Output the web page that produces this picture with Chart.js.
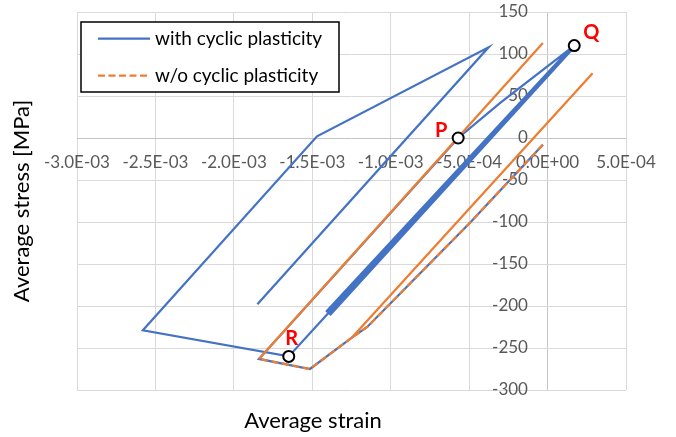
<!DOCTYPE html>
<html>
<head>
<meta charset="utf-8">
<script src="https://cdn.jsdelivr.net/npm/chart.js@4.4.1/dist/chart.umd.min.js"></script>
<style>
    body { margin: 0; background: #fff; }
</style>
</head>
<body>
<canvas id="grafico" width="676" height="437"></canvas>
<script>
// --- 1. DADOS ---

// Com plasticidade cíclica (deformação média x tensão média em MPa)
// carga inicial, ida até Q, ciclos entre Q e -209 MPa, depois R e descarga final
const deformacaoCom = [-0.03e-3, -0.49e-3, -1.15e-3, -1.25e-3, -1.515e-3, -1.84e-3, -0.57e-3, -0.30e-3, 0.17e-3,
    -1.388e-3, 0.175e-3, -1.394e-3, 0.168e-3, -1.412e-3, 0.165e-3, -1.406e-3, 0.172e-3, -1.40e-3,
    -1.65e-3, -2.58e-3, -1.47e-3, -0.376e-3, -1.85e-3];
const tensaoCom = [-8, -100, -225, -238, -275, -263, 0, 42, 110,
    -211, 109.2, -210, 110.4, -207, 110.8, -208, 109.6, -209,
    -260, -229, 2, 108, -198];

// Sem plasticidade cíclica
const deformacaoSem = [-0.03e-3, -0.49e-3, -1.15e-3, -1.25e-3, 0.287e-3, -1.25e-3, -1.515e-3, -1.84e-3, -0.03e-3, -1.84e-3];
const tensaoSem = [-8, -100, -225, -238, 77, -238, -275, -263, 113, -263];

// Pontos marcados
const pontosNome = ['P', 'Q', 'R'];
const pontosDeformacao = [-0.57e-3, 0.17e-3, -1.65e-3];
const pontosTensao = [0, 110, -260];

// Eixos
const ticksDeformacao = [-3.0e-3, -2.5e-3, -2.0e-3, -1.5e-3, -1.0e-3, -0.5e-3, 0, 0.5e-3];
const rotulosDeformacao = ['-3.0E-03', '-2.5E-03', '-2.0E-03', '-1.5E-03', '-1.0E-03', '-5.0E-04', '0.0E+00', '5.0E-04'];
const ticksTensao = [-300, -250, -200, -150, -100, -50, 0, 50, 100, 150];

// --- 2. UTILIDADES ---

function pares(xs, ys) {
    return xs.map((x, i) => ({ x: x, y: ys[i] }));
}

// Trecho percorrido de ida e volta (vários ciclos) aparece contínuo
function trechoRepetido(ctx) {
    const dados = ctx.chart.data.datasets[ctx.datasetIndex].data;
    const a = dados[ctx.p0DataIndex], b = dados[ctx.p1DataIndex];
    for (let i = 0; i < dados.length - 1; i++) {
        if (i === ctx.p0DataIndex) continue;
        const c = dados[i], d = dados[i + 1];
        if (c.x === b.x && c.y === b.y && d.x === a.x && d.y === a.y) return true;
    }
    return false;
}

const corAzul = '#4472C4';
const corLaranja = '#ED7D31';
const tracoLaranja = [7, 3.5];

// --- 3. PLUGINS ---

// Caixa de legenda dentro da área do gráfico
const legendaCaixa = {
    id: 'legendaCaixa',
    afterDraw(chart) {
        const { ctx, chartArea } = chart;
        const x = chartArea.left + 4, y = chartArea.top + 10, w = 258, h = 70;
        ctx.save();
        ctx.fillStyle = '#fff';
        ctx.fillRect(x, y, w, h);
        ctx.strokeStyle = '#000';
        ctx.lineWidth = 1.5;
        ctx.strokeRect(x, y, w, h);
        ctx.font = '19px Lato';
        ctx.textBaseline = 'middle';
        chart.data.datasets.filter(ds => ds.label).forEach((ds, i) => {
            const ly = y + 16.5 + i * 37;
            ctx.beginPath();
            ctx.strokeStyle = ds.borderColor;
            ctx.lineWidth = ds.borderWidth;
            ctx.setLineDash(ds.borderDash || []);
            ctx.moveTo(x + 17, ly);
            ctx.lineTo(x + 69, ly);
            ctx.stroke();
            ctx.setLineDash([]);
            ctx.fillStyle = '#000';
            ctx.fillText(ds.label, x + 74, ly);
        });
        ctx.restore();
    }
};

// Letras P, Q e R ao lado dos marcadores
const deslocRotulo = [[-17, -7], [17, -13], [3, -18]];
const rotulosPontos = {
    id: 'rotulosPontos',
    afterDatasetsDraw(chart) {
        const ctx = chart.ctx;
        const meta = chart.getDatasetMeta(2);
        ctx.save();
        ctx.font = 'bold 20px Lato';
        ctx.fillStyle = '#FF0000';
        ctx.textAlign = 'center';
        ctx.textBaseline = 'middle';
        meta.data.forEach((pt, i) => {
            ctx.fillText(pontosNome[i], pt.x + deslocRotulo[i][0], pt.y + deslocRotulo[i][1]);
        });
        ctx.restore();
    }
};

// --- 4. GRÁFICO ---

const corGrade = ctx => (ctx.tick && ctx.tick.value === 0) ? '#c4c4c4' : '#d9d9d9';
const fonteTicks = { family: 'Lato', size: 17 };

new Chart(document.getElementById('grafico'), {
    type: 'scatter',
    data: {
        datasets: [
            {
                label: 'with cyclic plasticity',
                data: pares(deformacaoCom, tensaoCom),
                showLine: true,
                borderColor: corAzul,
                borderWidth: 2.25,
                borderDash: [],
                pointRadius: 0,
                order: 2
            },
            {
                label: 'w/o cyclic plasticity',
                data: pares(deformacaoSem, tensaoSem),
                showLine: true,
                borderColor: corLaranja,
                borderWidth: 2.25,
                borderDash: tracoLaranja,
                segment: { borderDash: ctx => trechoRepetido(ctx) ? [] : tracoLaranja },
                pointRadius: 0,
                order: 1
            },
            {
                data: pares(pontosDeformacao, pontosTensao),
                showLine: false,
                pointRadius: 5.5,
                pointBackgroundColor: '#fff',
                pointBorderColor: '#000',
                pointBorderWidth: 2,
                order: 0
            }
        ]
    },
    options: {
        responsive: false,
        animation: false,
        events: [],
        layout: { padding: { top: 12, right: 50, left: 0, bottom: 0 } },
        scales: {
            x: {
                type: 'linear',
                position: { y: 0 },
                min: -3.0e-3,
                max: 0.5e-3,
                afterBuildTicks: s => { s.ticks = ticksDeformacao.map(v => ({ value: v })); },
                afterFit: s => { s.height = 0; },
                ticks: {
                    padding: 14,
                    color: '#595959',
                    font: fonteTicks,
                    maxRotation: 0,
                    autoSkip: false,
                    callback: (v, i) => rotulosDeformacao[i]
                },
                grid: { color: corGrade, lineWidth: 1, drawTicks: false },
                border: { display: false }
            },
            y: {
                type: 'linear',
                // rótulos um pouco à esquerda da linha do zero
                position: { x: -1.25e-4 },
                min: -300,
                max: 150,
                afterBuildTicks: s => { s.ticks = ticksTensao.map(v => ({ value: v })); },
                afterFit: s => { s.width = 0; },
                ticks: {
                    padding: 0,
                    color: '#595959',
                    font: fonteTicks,
                    autoSkip: false
                },
                grid: { color: corGrade, lineWidth: 1, drawTicks: false },
                border: { display: false }
            }
        },
        plugins: {
            legend: { display: false },
            tooltip: { enabled: false },
            title: {
                display: true,
                text: 'Average stress [MPa]',
                position: 'left',
                fullSize: false,
                color: '#000',
                font: { family: 'Lato', size: 22, weight: 'normal' },
                padding: { top: 9, bottom: 41.6 }
            },
            subtitle: {
                display: true,
                text: 'Average strain',
                position: 'bottom',
                color: '#000',
                font: { family: 'Lato', size: 22, weight: 'normal' },
                padding: { top: 17.8, bottom: 2.8 }
            }
        }
    },
    plugins: [legendaCaixa, rotulosPontos]
});
</script>
</body>
</html>
